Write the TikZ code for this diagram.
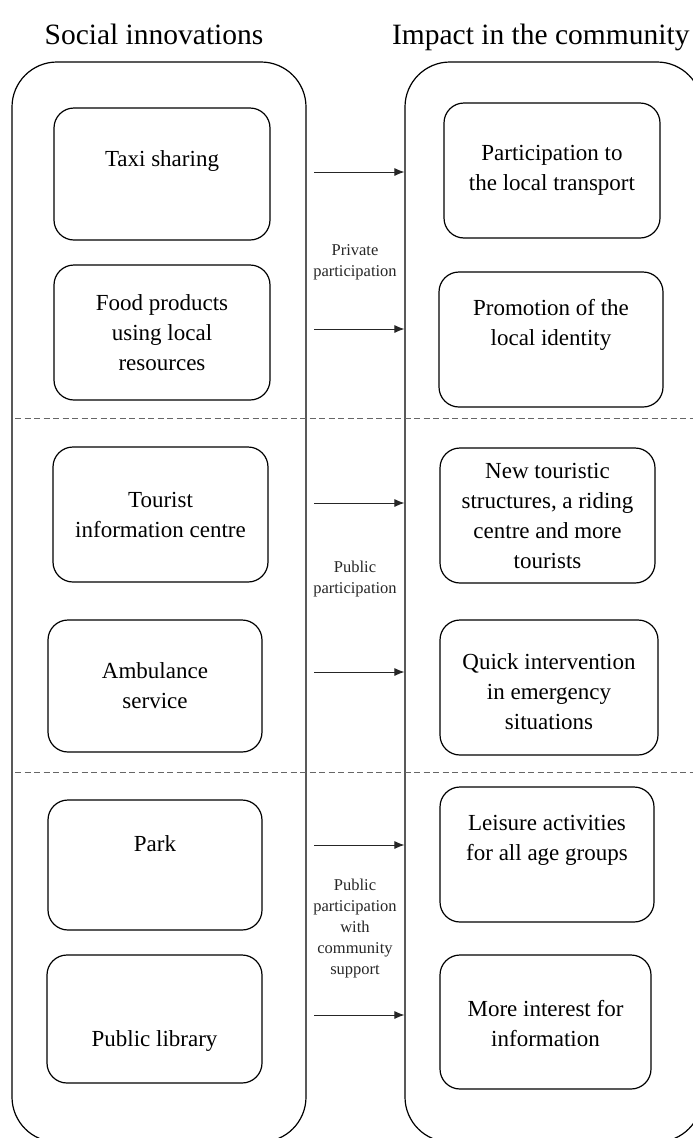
\documentclass[tikz,border=0pt]{standalone}
\usepackage{fontspec}
\setmainfont{Liberation Serif}
\usetikzlibrary{arrows.meta}

\begin{document}
\begin{tikzpicture}[x=1pt,y=-1pt,
    column/.style={draw, line width=1.2pt, rounded corners=45pt, inner sep=0pt},
    box/.style={draw, line width=1.2pt, rounded corners=20pt, inner sep=0pt,
        align=center, font=\fontsize{23}{30}\selectfont},
    head/.style={font=\fontsize{29.5}{34}\selectfont},
    side/.style={align=center, text=black!85, font=\fontsize{16.5}{21}\selectfont},
    sep/.style={black!60, line width=0.8pt, dash pattern=on 6pt off 3.5pt},
    arr/.style={-{Latex[length=10pt,width=8pt]}, black!85, line width=0.9pt}]
    \clip (0,0) rectangle (693,1138);

    % Headers
    \node[head, anchor=base] (lhead) at (154,44) {Social innovations};
    \node[head, anchor=base east] (rhead) at (693,44) {Impact in the community};

    % Columns
    \node[column, minimum width=294pt, minimum height=1080pt] (lcont) at (159,602) {};
    \node[column, minimum width=297pt, minimum height=1080pt] (rcont) at (553.5,602) {};

    % Separators
    \draw[sep] (15,418) -- (693,418);
    \draw[sep] (15,772) -- (693,772);

    % Social innovations
    \node[box, minimum width=216pt, minimum height=132pt, text height=16pt, text depth=32pt]
        (taxi) at (162,174) {Taxi sharing};
    \node[box, minimum width=216pt, minimum height=135pt]
        (food) at (162,332.5) {Food products\\using local\\resources};
    \node[box, minimum width=215pt, minimum height=135pt]
        (tourist) at (160.5,514.5) {Tourist\\information centre};
    \node[box, minimum width=214pt, minimum height=132pt]
        (ambulance) at (155,686) {Ambulance\\service};
    \node[box, minimum width=214pt, minimum height=130pt, text height=16pt, text depth=44pt]
        (park) at (155,865) {Park};
    \node[box, minimum width=215pt, minimum height=128pt, text height=59pt, text depth=5pt]
        (library) at (154.5,1019) {Public library};

    % Impact in the community
    \node[box, minimum width=216pt, minimum height=135pt]
        (transport) at (552,170.5) {Participation to\\the local transport};
    \node[box, minimum width=224pt, minimum height=135pt, text height=16pt, text depth=5pt]
        (identity) at (551,339.5) {Promotion of the\\local identity};
    \node[box, minimum width=215pt, minimum height=135pt]
        (touristic) at (547.5,515.5) {New touristic\\structures, a riding\\centre and more\\tourists};
    \node[box, minimum width=218pt, minimum height=135pt, text height=88pt, text depth=5pt]
        (emergency) at (549,687.5) {Quick intervention\\in emergency\\situations};
    \node[box, minimum width=214pt, minimum height=135pt, text height=16pt, text depth=5pt]
        (leisure) at (547,854.5) {Leisure activities\\for all age groups};
    \node[box, minimum width=211pt, minimum height=134pt, text height=54pt, text depth=5pt]
        (information) at (545.5,1022) {More interest for\\information};

    % Participation labels
    \node[side] (private) at (355,262) {Private\\participation};
    \node[side] (public) at (355,579) {Public\\participation};
    \node[side] (support) at (355,929) {Public\\participation\\with\\community\\support};

    % Arrows
    \coordinate (t1) at (314,172);
    \coordinate (t2) at (314,329);
    \coordinate (t3) at (314,503);
    \coordinate (t4) at (314,672);
    \coordinate (t5) at (314,845);
    \coordinate (t6) at (314,1015);
    \foreach \i in {1,...,6}
        \draw[arr] (t\i) -- (t\i -| rcont.west);
\end{tikzpicture}
\end{document}
